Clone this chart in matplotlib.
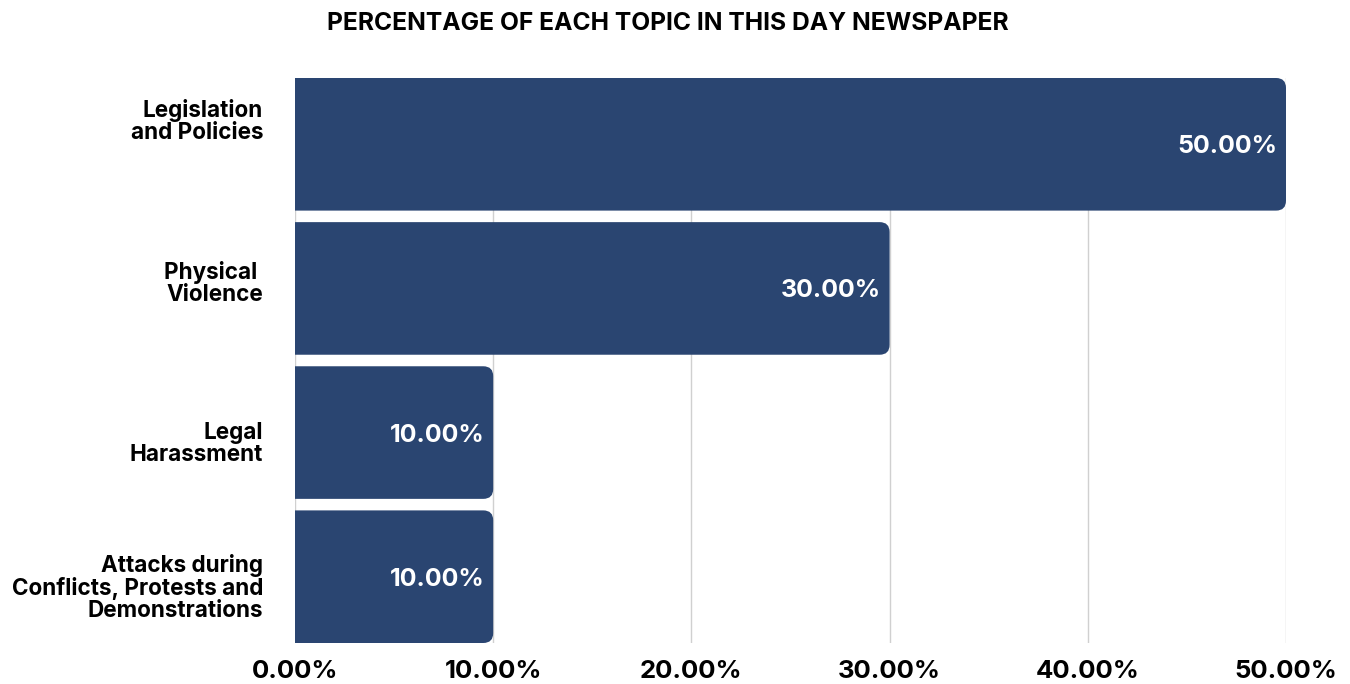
import matplotlib
matplotlib.use("Agg")
from matplotlib import pyplot as plt
from matplotlib.patches import FancyBboxPatch
from matplotlib.transforms import ScaledTranslation

plt.rcParams['font.family'] = ['Inter', 'DejaVu Sans']

# data
topics = ["Legislation\nand Policies", "Physical \nViolence", "Legal\nHarassment",
          "Attacks during\nConflicts, Protests and\nDemonstrations"]
shares = [50.0, 30.0, 10.0, 10.0]
ticks = [0, 10, 20, 30, 40, 50]

bar_color = "#2a4571"
bar_h = 0.92

fig = plt.figure(figsize=(13.5, 6.84), dpi=100)
ax = fig.add_axes([295/1350, 1 - 643/684, (1286-295)/1350, (643-78)/684])

ypos = list(range(len(topics)))
# rounded boxes, started left of 0 so the axes clip the left corners square
rx = 0.5
ry = rx * (10/144.3) / (10/19.82)
for y, v in zip(ypos, shares):
    p = FancyBboxPatch((-2, y - bar_h/2), v + 2, bar_h,
                       boxstyle="round,pad=0,rounding_size=%f" % rx,
                       mutation_aspect=ry/rx, fc=bar_color, ec="none", zorder=2)
    ax.add_patch(p)
    ax.text(v - 0.45, y, "%.2f%%" % v, ha="right", va="center_baseline",
            color="white", fontsize=18, fontweight="bold", zorder=3)

ax.set_xlim(0, 50)
ax.set_ylim(len(topics) - 1 + bar_h/2, -bar_h/2)
ax.set_yticks(ypos)
ax.set_yticklabels(topics, fontsize=16.2, fontweight="bold", linespacing=1.0)
ax.set_xticks(ticks)
ax.set_xticklabels(["%.2f%%" % t for t in ticks], fontsize=18.5, fontweight="bold")
ax.tick_params(axis="y", length=0, pad=23)
ax.tick_params(axis="x", length=0, pad=12)
ax.grid(axis="x", color="#d0d0d0", linewidth=1, zorder=0)
ax.set_axisbelow(True)
for s in ax.spines.values():
    s.set_visible(False)

# the category labels sit a little off the bar centres in the original
shift_px = [25, 7, -9, -9]
for lab, d in zip(ax.get_yticklabels(), shift_px):
    lab.set_transform(lab.get_transform() + ScaledTranslation(0, d/100, fig.dpi_scale_trans))

fig.text(668/1350, 1 - 24/684, "PERCENTAGE OF EACH TOPIC IN THIS DAY NEWSPAPER",
         ha="center", va="center", fontsize=17.7, fontweight="bold")

fig.savefig("out.png", dpi=100)
